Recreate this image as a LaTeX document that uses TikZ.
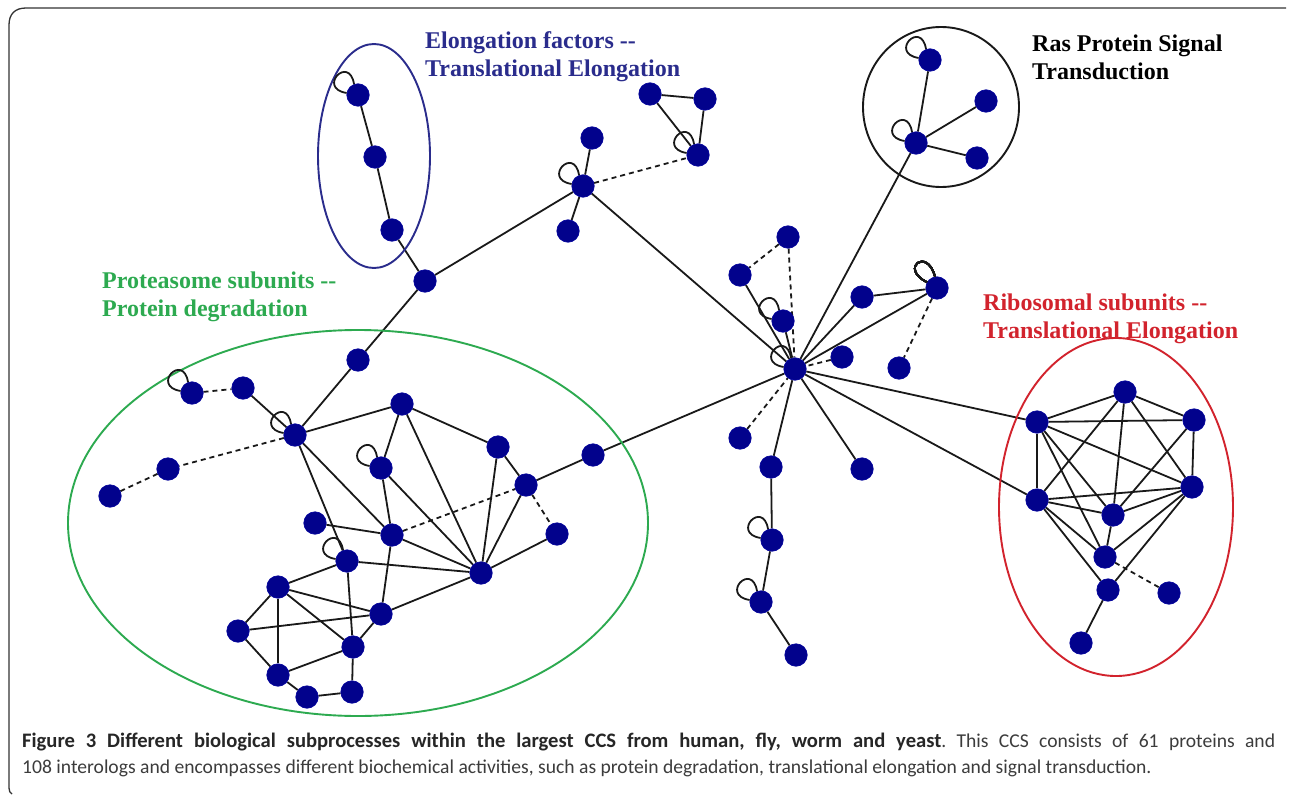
\documentclass[tikz,border=0pt]{standalone}
\usepackage{fontspec}
\setmainfont{Liberation Serif}
\newfontfamily\capfont{Carlito}
\usetikzlibrary{backgrounds}
\definecolor{nodeblue}{RGB}{2,2,140}
\definecolor{efblue}{RGB}{42,44,140}
\definecolor{psgreen}{RGB}{45,170,80}
\definecolor{rbred}{RGB}{210,35,45}
\definecolor{capgray}{RGB}{60,60,60}
\begin{document}
\begin{tikzpicture}[x=1pt,y=-1pt,
  prot/.style={circle,fill=nodeblue,draw=nodeblue!85!blue,line width=0.6pt,inner sep=0pt,minimum size=22.5pt},
  lnk/.style={line width=1.8pt,black!90},
  dlnk/.style={lnk,dash pattern=on 5pt off 4pt},
  grp/.style={line width=1.9pt},
  lbl/.style={font=\bfseries\fontsize{24}{28}\selectfont,anchor=base west,inner sep=0pt},
  capline/.style={anchor=base west,inner sep=0pt,text=capgray,font=\capfont\fontsize{19.6}{24}\selectfont\frenchspacing}]
\newcommand\selfloop[1]{\draw[lnk] (#1.110) .. controls +(-5,-30) and +(-30,-5) .. (#1.170);}
\useasboundingbox (0,0) rectangle (1290,797);
\begin{scope}[on background layer]
\fill[white] (0,0) rectangle (1290,797);
\end{scope}
% frame
\draw[line width=1.3pt,black!80] (1286,8) -- (26,8) .. controls (15,8) and (9,14) .. (9,25) -- (9,788) .. controls (9,791) and (10,793) .. (12,794);

% group outlines
\draw[grp,efblue] (374,156) ellipse [x radius=56, y radius=112];
\draw[grp,black!90] (941,107) ellipse [x radius=78, y radius=80];
\draw[grp,psgreen] (358,523) ellipse [x radius=290, y radius=193];
\draw[grp,rbred] (1116,507) ellipse [x radius=117, y radius=169];

% labels
\node[lbl,text=efblue] (lef1) at (425,49) {Elongation factors -{}-};
\node[lbl,text=efblue] (lef2) at (425,77) {Translational Elongation};
\node[lbl,text=black] (lras1) at (1032,52) {Ras Protein Signal};
\node[lbl,text=black] (lras2) at (1032,80) {Transduction};
\node[lbl,text=psgreen] (lps1) at (102,288) {Proteasome subunits -{}-};
\node[lbl,text=psgreen] (lps2) at (102,316) {Protein degradation};
\node[lbl,text=rbred] (lrb1) at (983,310) {Ribosomal subunits -{}-};
\node[lbl,text=rbred] (lrb2) at (983,338) {Translational Elongation};

% nodes: elongation & top
\node[prot] (E1) at (358,95) {};
\node[prot] (E2) at (375,157) {};
\node[prot] (E3) at (392,230) {};
\node[prot] (A) at (425,281) {};
\node[prot] (A2) at (358,360) {};
\node[prot] (B) at (583,186) {};
\node[prot] (B1) at (592,138) {};
\node[prot] (B2) at (568,231) {};
\node[prot] (T1) at (650,94) {};
\node[prot] (T2) at (705,99) {};
\node[prot] (T3) at (698,155) {};
% Ras
\node[prot] (R1) at (930,60) {};
\node[prot] (R2) at (986,101) {};
\node[prot] (R3) at (916,143) {};
\node[prot] (R4) at (977,158) {};
% center
\node[prot] (C) at (795,369) {};
\node[prot] (C1) at (788,237) {};
\node[prot] (C2) at (740,275) {};
\node[prot] (C3) at (783,321) {};
\node[prot] (C4) at (862,297) {};
\node[prot] (C5) at (937,288) {};
\node[prot] (C6) at (842,357) {};
\node[prot] (C7) at (899,368) {};
\node[prot] (C8) at (740,438) {};
\node[prot] (C9) at (771,467) {};
\node[prot] (C10) at (862,469) {};
\node[prot] (C11) at (772,540) {};
\node[prot] (C12) at (761,602) {};
\node[prot] (C13) at (796,655) {};
% ribosomal
\node[prot] (Q1) at (1037,422) {};
\node[prot] (Q2) at (1125,392) {};
\node[prot] (Q3) at (1194,420) {};
\node[prot] (Q4) at (1192,487) {};
\node[prot] (Q5) at (1037,500) {};
\node[prot] (Q6) at (1113,515) {};
\node[prot] (Q7) at (1105,557) {};
\node[prot] (Q8) at (1108,590) {};
\node[prot] (Q9) at (1169,593) {};
\node[prot] (Q10) at (1081,643) {};
% proteasome
\node[prot] (H) at (295,435) {};
\node[prot] (P1) at (192,393) {};
\node[prot] (P2) at (243,388) {};
\node[prot] (P3) at (402,404) {};
\node[prot] (P4) at (381,468) {};
\node[prot] (P5) at (168,469) {};
\node[prot] (P6) at (110,496) {};
\node[prot] (P7) at (315,523) {};
\node[prot] (P8) at (392,535) {};
\node[prot] (P9) at (347,561) {};
\node[prot] (P10) at (498,447) {};
\node[prot] (P11) at (526,485) {};
\node[prot] (P12) at (593,455) {};
\node[prot] (P13) at (557,534) {};
\node[prot] (G) at (481,573) {};
\node[prot] (P14) at (381,614) {};
\node[prot] (P15) at (278,587) {};
\node[prot] (P16) at (238,631) {};
\node[prot] (P17) at (353,647) {};
\node[prot] (P18) at (278,675) {};
\node[prot] (P19) at (307,697) {};
\node[prot] (P20) at (352,692) {};

\begin{scope}[on background layer]
% solid links
\foreach \a/\b in {E1/E2,E2/E3,E3/A,A/A2,A2/H,A/B,B/B1,B/B2,B/C,T1/T2,T1/T3,T2/T3,
  R1/R3,R3/R2,R3/R4,R3/C,
  C2/C,C3/C,C4/C,C4/C5,C5/C,C9/C,C10/C,C/P12,C/Q1,C/Q5,C9/C11,C11/C12,C12/C13,
  Q1/Q2,Q1/Q3,Q1/Q4,Q1/Q5,Q1/Q6,Q1/Q7,Q2/Q3,Q2/Q4,Q2/Q5,Q2/Q6,Q3/Q4,Q3/Q6,
  Q4/Q5,Q4/Q6,Q4/Q7,Q4/Q8,Q5/Q6,Q5/Q7,Q5/Q8,Q6/Q7,Q8/Q10,
  P2/H,H/P3,H/P8,H/P9,P3/P4,P3/G,P3/P10,P4/P8,P4/G,P10/P11,P10/G,P11/G,P11/P12,
  P13/G,P7/P8,P8/G,P9/G,P8/P14,P9/P15,P9/P17,G/P14,P15/P14,P15/P17,P15/P16,P15/P18,
  P16/P14,P16/P18,P14/P17,P17/P18,P17/P20,P18/P19,P19/P20}
  \draw[lnk] (\a) -- (\b);
% dashed links
\foreach \a/\b in {P1/P2,H/P5,P5/P6,P8/P11,P11/P13,B/T3,C1/C2,C1/C,C5/C7,C6/C,C8/C,Q7/Q9}
  \draw[dlnk] (\a) -- (\b);
\end{scope}

% self loops
\foreach \n in {E1,B,T3,R1,R3,C,C3,C11,C12,H,P1,P4,P9}
  \selfloop{\n}
\draw[lnk] (C5.100) .. controls +(-8,-30) and +(-28,-14) .. (C5.150);

% caption
\node[capline] (cap1) at (22,747) {\makebox[1253pt][s]{{\bfseries\fontsize{20.6}{24}\selectfont\color{black!85}Figure 3 Different biological subprocesses within the largest CCS from human, fly, worm and yeast}. This CCS consists of 61 proteins and}};
\node[capline] (cap2) at (22,773) {108 interologs and encompasses different biochemical activities, such as protein degradation, translational elongation and signal transduction.};
\end{tikzpicture}
\end{document}
